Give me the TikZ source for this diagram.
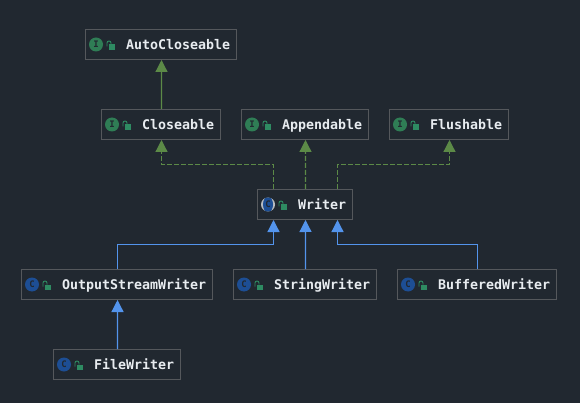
\documentclass[tikz,border=0pt]{standalone}
\usepackage{xcolor}
\usepackage{fontspec}
\setmonofont{DejaVu Sans Mono}
\usetikzlibrary{arrows.meta,positioning,calc}
\definecolor{bgdark}{HTML}{212830}
\definecolor{boxline}{HTML}{55585C}
\definecolor{labeltext}{HTML}{E8ECF0}
\definecolor{ifacegreen}{HTML}{2F7D55}
\definecolor{lockgreen}{HTML}{2E8B62}
\definecolor{classblue}{HTML}{1D4E94}
\definecolor{ringgrey}{HTML}{B8BCC0}
\definecolor{extendgreen}{HTML}{5C8A47}
\definecolor{extendblue}{HTML}{5394EC}
\tikzset{
  typebox/.style={draw=boxline, line width=1pt, anchor=west, align=left, font=\ttfamily\bfseries\fontsize{13.29}{14}\selectfont,
    text=labeltext, minimum height=30pt, inner ysep=0pt, text height=11pt, text depth=0.5pt,
    inner xsep=0pt, execute at begin node={\hspace*{40.5pt}}, execute at end node={\hspace*{6.5pt}}},
  kindicon/.style={circle, inner sep=0pt, minimum size=14pt, font=\ttfamily\bfseries\fontsize{9}{9}\selectfont},
  ifaceicon/.style={kindicon, fill=ifacegreen, text=bgdark},
  classicon/.style={kindicon, fill=classblue, text=bgdark},
  abstracticon/.style={kindicon, fill=ringgrey, text=bgdark,
    path picture={\fill [classblue] (path picture bounding box.center) ellipse (5pt and 8pt);}},
  implements/.style={color=extendgreen, line width=1.25pt, dash pattern=on 5pt off 2pt, -{Triangle[length=12pt,width=12pt]}},
  inherits/.style={color=extendgreen, line width=1.25pt, -{Triangle[length=12pt,width=12pt]}},
  extendsline/.style={color=extendblue, line width=1.25pt, -{Triangle[length=12pt,width=12pt]}},
  pics/openlock/.style={code={
    \fill [lockgreen] (-2.5,-1) rectangle (3.5,4.5);
    \draw [lockgreen, line width=0.9pt] (-4.5,1) -- (-4.5,-2.5) arc (180:0:2pt) -- (-0.5,-1);
  }}
}
\begin{document}
\begin{tikzpicture}[x=1pt,y=-1pt]
    \fill [bgdark] (0,0) rectangle (580,403);
    \useasboundingbox (0,0) rectangle (580,403);

    % Interfaces
    \node [typebox] (autocloseable) at (85,44.5) {AutoCloseable};
    \node [typebox] (closeable) at (101,124.5) {Closeable};
    \node [typebox] (appendable) at (241,124.5) {Appendable};
    \node [typebox] (flushable) at (389,124.5) {Flushable};

    % Classes
    \node [typebox] (writer) at (257,204.5) {Writer};
    \node [typebox] (outputstream) at (21,284.5) {OutputStreamWriter};
    \node [typebox] (stringwriter) at (233,284.5) {StringWriter};
    \node [typebox] (bufferedwriter) at (397,284.5) {BufferedWriter};
    \node [typebox] (filewriter) at (53,364.5) {FileWriter};

    % Icons
    \foreach \typename/\kind/\letter in {autocloseable/ifaceicon/I, closeable/ifaceicon/I, appendable/ifaceicon/I, flushable/ifaceicon/I,
        writer/abstracticon/C, outputstream/classicon/C, stringwriter/classicon/C, bufferedwriter/classicon/C, filewriter/classicon/C} {
        \node [\kind] (\typename-icon) at ($(\typename.west)+(11,0)$) {\letter};
        \pic at ($(\typename.west)+(26.5,1)$) {openlock};
    }

    % Bends
    \coordinate (writer-in-l) at ([xshift=-31.5pt]writer.north);
    \coordinate (writer-in-r) at ([xshift=32.5pt]writer.north);
    \coordinate (writer-out-l) at ([xshift=-31.5pt]writer.south);
    \coordinate (writer-out-r) at ([xshift=32.5pt]writer.south);
    \coordinate (bend-a) at ([yshift=24.5pt]writer-in-l);
    \coordinate (bend-b) at ([yshift=24.5pt]writer-in-r);
    \coordinate (bend-c) at ([xshift=0.5pt,yshift=24.5pt]outputstream.north);
    \coordinate (bend-d) at ([xshift=0.5pt,yshift=24.5pt]bufferedwriter.north);

    % Arrows
    \draw [inherits] ([xshift=0.5pt]closeable.north) -- ([xshift=0.5pt]autocloseable.south);
    \draw [implements] (writer-in-l) -- (bend-a) -- ([xshift=0.5pt]bend-a -| closeable.south) -- ([xshift=0.5pt]closeable.south);
    \draw [implements] ([xshift=0.5pt]writer.north) -- ([xshift=0.5pt]appendable.south);
    \draw [implements] (writer-in-r) -- (bend-b) -- ([xshift=0.5pt]bend-b -| flushable.south) -- ([xshift=0.5pt]flushable.south);
    \draw [extendsline] (outputstream.north -| bend-c) -- (bend-c) -- (bend-c -| writer-out-l) -- (writer-out-l);
    \draw [extendsline] ([xshift=0.5pt]stringwriter.north) -- ([xshift=0.5pt]writer.south);
    \draw [extendsline] (bufferedwriter.north -| bend-d) -- (bend-d) -- (bend-d -| writer-out-r) -- (writer-out-r);
    \draw [extendsline] ([xshift=0.5pt]filewriter.north) -- ([xshift=0.5pt]outputstream.south);
\end{tikzpicture}
\end{document}
